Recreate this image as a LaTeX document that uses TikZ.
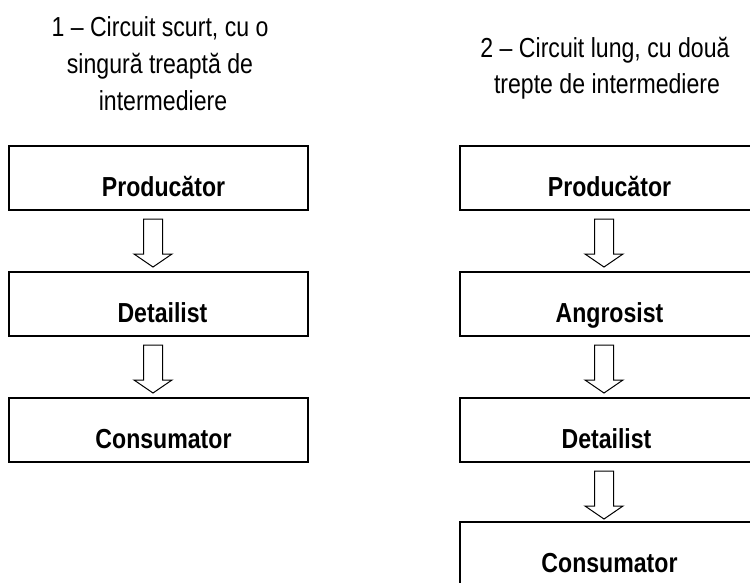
\documentclass[tikz,border=0pt]{standalone}
\usepackage{fontspec}
\setmainfont{Liberation Sans}[FakeStretch=0.84]
\begin{document}
\begin{tikzpicture}[x=1pt,y=-1pt,
  box/.style={draw, line width=2pt, minimum width=299pt, minimum height=64pt, inner sep=0pt},
  boxtext/.style={anchor=base, inner sep=0pt, font=\fontsize{27.5}{33}\selectfont\bfseries},
  title/.style={anchor=base, inner sep=0pt, font=\fontsize{27.5}{33}\selectfont},
  blockarrow/.style={draw, line width=1pt, line join=miter, fill=white}]
\useasboundingbox (0,0) rectangle (750,582);
\clip (0,0) rectangle (750,582);

% headings
\node[title] (t1a) at (160,36.7) {1 – Circuit scurt, cu o};
\node[title] (t1b) at (160,73.7) {singură treaptă de};
\node[title] (t1c) at (163,110.7) {intermediere};
\node[title] (t2a) at (605,57) {2 – Circuit lung, cu două};
\node[title] (t2b) at (607,93) {trepte de intermediere};

% short circuit
\node[box] (p1) at (158.5,178) {};
\node[box] (d1) at (158.5,304) {};
\node[box] (c1) at (158.5,430) {};

% long circuit
\node[box] (p2) at (609.5,178) {};
\node[box] (a2) at (609.5,304) {};
\node[box] (d2) at (609.5,430) {};
\node[box] (c2) at (609.5,554) {};

% box labels
\node[boxtext] (p1t) at ([shift={(5,18.7)}]p1.center) {Producător};
\node[boxtext] (d1t) at ([shift={(4,18.7)}]d1.center) {Detailist};
\node[boxtext] (c1t) at ([shift={(5,18.7)}]c1.center) {Consumator};
\node[boxtext] (p2t) at ([shift={(0,18.7)}]p2.center) {Producător};
\node[boxtext] (a2t) at ([shift={(0,18.7)}]a2.center) {Angrosist};
\node[boxtext] (d2t) at ([shift={(-3,18.7)}]d2.center) {Detailist};
\node[boxtext] (c2t) at ([shift={(0,18.7)}]c2.center) {Consumator};

% hollow block arrows between consecutive stages
\foreach \a in {p1,d1,p2,a2,d2}{
  \draw[blockarrow] ([shift={(-15,8)}]\a.south) -- ++(19,0) -- ++(0,35)
    -- ++(9.5,0) -- ++(-19,13) -- ++(-19,-13) -- ++(9.5,0) -- cycle;
}
\end{tikzpicture}
\end{document}
